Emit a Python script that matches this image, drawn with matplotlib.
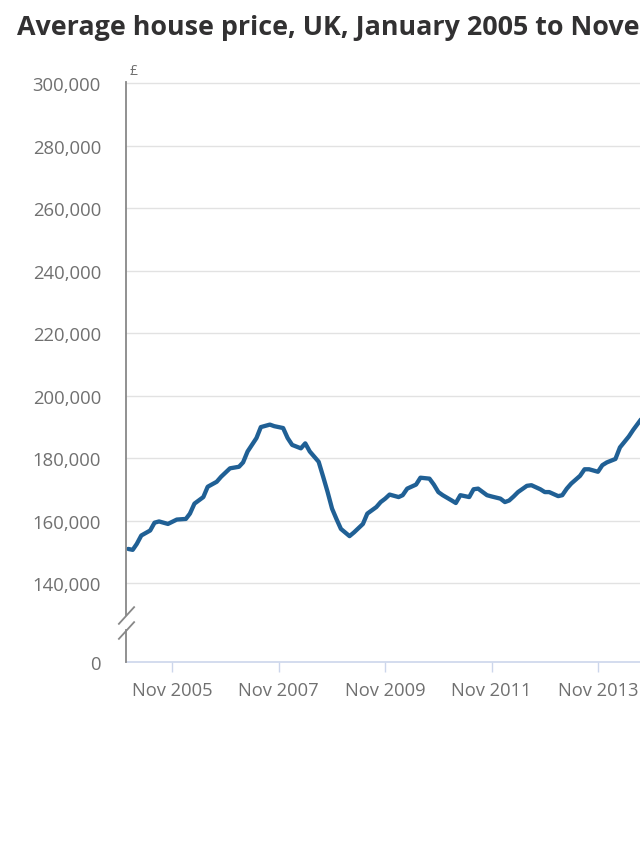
import matplotlib
matplotlib.use("Agg")
import matplotlib.pyplot as plt
import matplotlib.dates as mdates
import pandas as pd

plt.rcParams["font.family"] = ["Open Sans", "DejaVu Sans"]

# monthly average price (gaps are months not read)
months = [
    "2005-01", "2005-02", "2005-03", "2005-04", "2005-06", "2005-07", "2005-08",
    "2005-10", "2005-12", "2006-02", "2006-03", "2006-04", "2006-06", "2006-07",
    "2006-09", "2006-10", "2006-12", "2007-02", "2007-03", "2007-04", "2007-06",
    "2007-07", "2007-09", "2007-10", "2007-12", "2008-01", "2008-02", "2008-04",
    "2008-05", "2008-06", "2008-08", "2008-09", "2008-10", "2008-11", "2008-12",
    "2009-01", "2009-03", "2009-04", "2009-06", "2009-07", "2009-09", "2009-10",
    "2009-11", "2009-12", "2010-02", "2010-03", "2010-04", "2010-06", "2010-07",
    "2010-09", "2010-10", "2010-11", "2010-12", "2011-02", "2011-03", "2011-04",
    "2011-06", "2011-07", "2011-08", "2011-10", "2011-11", "2012-01", "2012-02",
    "2012-03", "2012-04", "2012-05", "2012-07", "2012-08", "2012-10", "2012-11",
    "2012-12", "2013-02", "2013-03", "2013-04", "2013-05", "2013-07", "2013-08",
    "2013-09", "2013-11", "2013-12", "2014-01", "2014-03", "2014-04", "2014-06",
    "2014-07", "2014-09", "2014-10",
]
prices = [
    151000, 150700, 152600, 155300, 156900, 159400, 159800,
    159000, 160400, 160600, 162300, 165500, 167600, 170900,
    172500, 174100, 176800, 177300, 178700, 182200, 186500,
    190000, 190800, 190300, 189700, 186500, 184300, 183200,
    184800, 182200, 178900, 174100, 169300, 163900, 160600,
    157400, 155100, 156300, 159000, 162300, 164400, 166000,
    167100, 168400, 167600, 168200, 170300, 171600, 173800,
    173500, 171600, 169200, 168200, 166500, 165700, 168200,
    167600, 170100, 170300, 168200, 167800, 167100, 166000,
    166500, 167800, 169200, 171200, 171400, 170100, 169200,
    169200, 167900, 168200, 170300, 171900, 174400, 176500,
    176500, 175700, 177800, 178700, 179800, 183500, 187000,
    189100, 193000, 195500,
]

y_ticks = [140000, 160000, 180000, 200000, 220000, 240000, 260000, 280000, 300000]
x_tick_years = [2005, 2007, 2009, 2011, 2013]

dates = pd.to_datetime(months)
x_left = pd.Timestamp("2004-12-17")
x_right = pd.Timestamp("2019-12-15")
y_zero_pos = 114800  # where the broken axis puts "0"

W, H = 640, 853
fig = plt.figure(figsize=(W / 100, H / 100), dpi=100)
px_per_day = 425.5 / (pd.Timestamp("2013-11-01") - pd.Timestamp("2005-11-01")).days
ax_w = (x_right - x_left).days * px_per_day
ax = fig.add_axes([126 / W, (H - 663) / H, ax_w / W, (663 - 84.5) / H])

ax.plot(dates, prices, color="#206095", lw=3.1, solid_capstyle="round",
        solid_joinstyle="round", zorder=3)

ax.set_xlim(x_left, x_right)
ax.set_ylim(y_zero_pos, 300000)

for v in y_ticks:
    ax.axhline(v, color="#e2e2e2", lw=1.0, zorder=1, clip_on=False)

ax.set_yticks([y_zero_pos] + y_ticks)
ax.set_yticklabels(["0"] + [f"{v:,}" for v in y_ticks])
ax.tick_params(axis="y", length=0, pad=18, labelsize=13.3, labelcolor="#707070")

xt = [pd.Timestamp(f"{y}-11-01") for y in x_tick_years]
ax.set_xticks(xt)
ax.xaxis.set_major_formatter(mdates.DateFormatter("%b %Y"))
ax.tick_params(axis="x", length=7.5, width=1.0, color="#ccd6eb", pad=6,
               labelsize=13.2, labelcolor="#707070")

for s in ["top", "right", "left"]:
    ax.spines[s].set_visible(False)
ax.spines["bottom"].set_color("#ccd6eb")
ax.spines["bottom"].set_linewidth(1.2)

# left axis line with a break between 140,000 and 0
brk_hi, brk_lo = 130000, 125200
spine_kw = dict(color="#888888", lw=1.3, clip_on=False, zorder=4)
ax.plot([x_left, x_left], [300500, brk_hi], **spine_kw)
ax.plot([x_left, x_left], [brk_lo, y_zero_pos], **spine_kw)
ax.plot([x_left, x_left], [brk_hi, brk_lo], ls="none",
        marker=[(-1, -1.1), (1, 1.1)], markersize=13, mec="#888888", mew=1.3,
        clip_on=False, zorder=4)

ax.text(0.005, 1.01, "£", transform=ax.transAxes, fontsize=10,
        color="#707070", ha="left", va="bottom")

fig.text(17 / W, 1 - 28 / H, "Average house price, UK, January 2005 to November 2019",
         fontsize=19.4, fontweight="bold", color="#323132", ha="left", va="center")

fig.savefig("out.png", dpi=100)
